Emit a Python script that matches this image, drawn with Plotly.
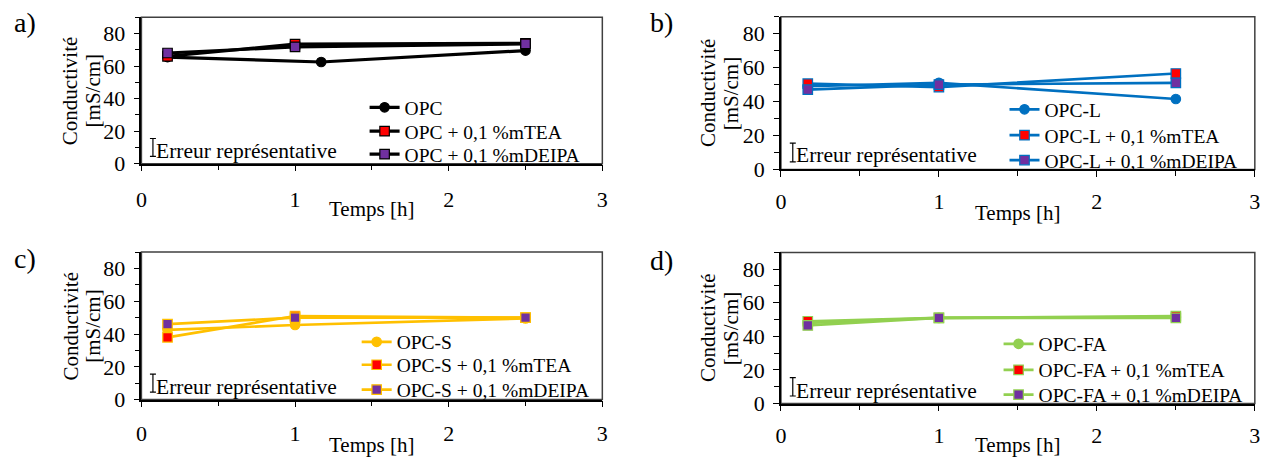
import plotly.graph_objects as go

# ---------------- data ----------------
x_std = [0.17, 1, 2.5]
x_opc_a = [0.17, 1.17, 2.5]

a_names = ["OPC", "OPC + 0,1 %mTEA", "OPC + 0,1 %mDEIPA"]
a_opc = [65.5, 62.5, 69.5]
a_tea = [66, 73.5, 74]
a_deipa = [68, 71.8, 73.6]

b_names = ["OPC-L", "OPC-L + 0,1 %mTEA", "OPC-L + 0,1 %mDEIPA"]
b_opc = [49, 51, 41.5]
b_tea = [50.5, 48.5, 56.5]
b_deipa = [47, 50, 51]

c_names = ["OPC-S", "OPC-S + 0,1 %mTEA", "OPC-S + 0,1 %mDEIPA"]
c_opc = [42.5, 45.5, 49.5]
c_tea = [38, 51, 50]
c_deipa = [46, 50, 50]

d_names = ["OPC-FA", "OPC-FA + 0,1 %mTEA", "OPC-FA + 0,1 %mDEIPA"]
d_opc = [48, 51, 51.5]
d_tea = [49, 51, 52]
d_deipa = [46.5, 51, 51]

err_x = [0.075]
err_y = [10]
err_half = [5.5]

panel_labels = ["a)", "b)", "c)", "d)"]
x_title = "Temps [h]"
y_title_1 = "Conductivité"
y_title_2 = "[mS/cm]"
err_text = "Erreur représentative"

# ---------------- styling ----------------
FONT = "Liberation Serif"
W, H = 1274, 468
RED = "#FF0000"
PURPLE = "#7030A0"

panels = [
    dict(names=a_names, xo=x_opc_a, ys=[a_opc, a_tea, a_deipa], col="#000000", lw=3.2,
         xd=[136.7, 602.0], yd=[17.7, 168.4], legx=362, legy=[110.7, 135.3, 158.9],
         lab=(6, 23.6), yt=(65.3, 87.8), xt=215.3, et=(149, 155.8), so=9),
    dict(names=b_names, xo=x_std, ys=[b_opc, b_tea, b_deipa], col="#0070C0", lw=2.7,
         xd=[782.3, 1260.7], yd=[17.1, 174.3], legx=1008, legy=[112.8, 139.4, 165],
         lab=(648, 23.6), yt=(708.7, 732.2), xt=218.6, et=(795, 159.9), so=5),
    dict(names=c_names, xo=x_std, ys=[c_opc, c_tea, c_deipa], col="#FFC000", lw=2.7,
         xd=[136.7, 602.0], yd=[259.3, 411.0], legx=354, legy=[351.9, 375.5, 401],
         lab=(6, 265.8), yt=(65.3, 87.8), xt=457.8, et=(149, 398), so=7),
    dict(names=d_names, xo=x_std, ys=[d_opc, d_tea, d_deipa], col="#92D050", lw=2.7,
         xd=[782.3, 1260.7], yd=[259.6, 415.1], legx=1002, legy=[354.0, 380.7, 406.3],
         lab=(648, 267.8), yt=(708.7, 732.2), xt=457.5, et=(795, 402.1), so=5),
]

fig = go.Figure()
layout = dict(width=W, height=H, margin=dict(l=0, r=0, t=0, b=0),
              paper_bgcolor="white", plot_bgcolor="white",
              font=dict(family=FONT, size=20, color="black"),
              annotations=[], shapes=[])

legn = 0
for i, p in enumerate(panels):
    k = "" if i == 0 else str(i + 1)
    xa, ya = "x" + k, "y" + k
    col = p["col"]
    xs = [p["xo"], x_std, x_std]
    fills = [col, RED, PURPLE]
    symbols = ["circle", "square", "square"]
    for j in range(3):
        legn += 1
        leg = "legend" if legn == 1 else "legend%d" % legn
        fig.add_trace(go.Scatter(
            x=xs[j], y=p["ys"][j], name=p["names"][j], mode="lines+markers",
            line=dict(color=col, width=p["lw"]),
            marker=dict(symbol=symbols[j], size=9.5, color=fills[j],
                        line=dict(color=col, width=1.2)),
            xaxis=xa, yaxis=ya, legend=leg, showlegend=True))
        layout[leg] = dict(x=p["legx"] / W, y=1 - p["legy"][j] / H, xanchor="left",
                           yanchor="middle", bgcolor="rgba(0,0,0,0)", borderwidth=0,
                           font=dict(family=FONT, size=19.5, color="black"),
                           itemwidth=30)
    fig.add_trace(go.Scatter(
        x=err_x, y=err_y, mode="markers", marker=dict(size=1, color="rgba(0,0,0,0)"),
        error_y=dict(type="data", array=err_half, color="black", thickness=1.2, width=3),
        xaxis=xa, yaxis=ya, showlegend=False, hoverinfo="skip"))

    x0, x1 = p["xd"][0] / W, p["xd"][1] / W
    y0, y1 = 1 - p["yd"][1] / H, 1 - p["yd"][0] / H
    layout["xaxis" + k] = dict(domain=[x0, x1], anchor=ya, range=[0, 3], dtick=1, tick0=0,
                       showgrid=False, zeroline=False, showline=True, linecolor="black",
                       linewidth=1.5, ticks="outside", ticklen=6, tickcolor="black",
                       tickwidth=1.2, ticklabelstandoff=p["so"],
                       minor=dict(ticks="outside", dtick=0.5, ticklen=5,
                                  tickcolor="black", tickwidth=1.2, showgrid=False),
                       tickfont=dict(family=FONT, size=22))
    layout["yaxis" + k] = dict(domain=[y0, y1], anchor=xa, range=[0, 90], dtick=20, tick0=0,
                       showgrid=False, zeroline=False, showline=True, linecolor="black",
                       linewidth=1.5, ticks="outside", ticklen=6, tickcolor="black",
                       tickwidth=1.2, ticklabelstandoff=4,
                       minor=dict(ticks="outside", dtick=10, ticklen=5,
                                  tickcolor="black", tickwidth=1.2, showgrid=False),
                       tickfont=dict(family=FONT, size=22))
    layout["shapes"].append(dict(type="rect", xref=xa + " domain", yref=ya + " domain",
                                 x0=0, x1=1, y0=0, y1=1,
                                 line=dict(color="#404040", width=1.5), layer="below"))
    layout["annotations"].append(dict(text=panel_labels[i], xref="paper", yref="paper",
                                      x=p["lab"][0] / W, y=1 - p["lab"][1] / H,
                                      xanchor="left", yanchor="middle", showarrow=False,
                                      font=dict(size=28)))
    for t, xx in ((y_title_1, p["yt"][0]), (y_title_2, p["yt"][1])):
        layout["annotations"].append(dict(text=t, xref="paper", yref="paper",
                                          x=xx / W, y=(y0 + y1) / 2, textangle=-90,
                                          xanchor="center", yanchor="middle",
                                          showarrow=False, font=dict(size=21)))
    layout["annotations"].append(dict(text=x_title, xref="paper", yref="paper",
                                      x=(x0 + x1) / 2, y=1 - p["xt"] / H,
                                      xanchor="center", yanchor="middle", showarrow=False,
                                      font=dict(size=21)))
    layout["annotations"].append(dict(text=err_text, xref="paper", yref="paper",
                                      x=p["et"][0] / W, y=1 - p["et"][1] / H,
                                      xanchor="left", yanchor="middle", showarrow=False,
                                      font=dict(size=21.5)))

fig.update_layout(**layout)
fig.write_html("out.html", post_script="document.body.style.margin='0px';",
               config={"displayModeBar": False})
